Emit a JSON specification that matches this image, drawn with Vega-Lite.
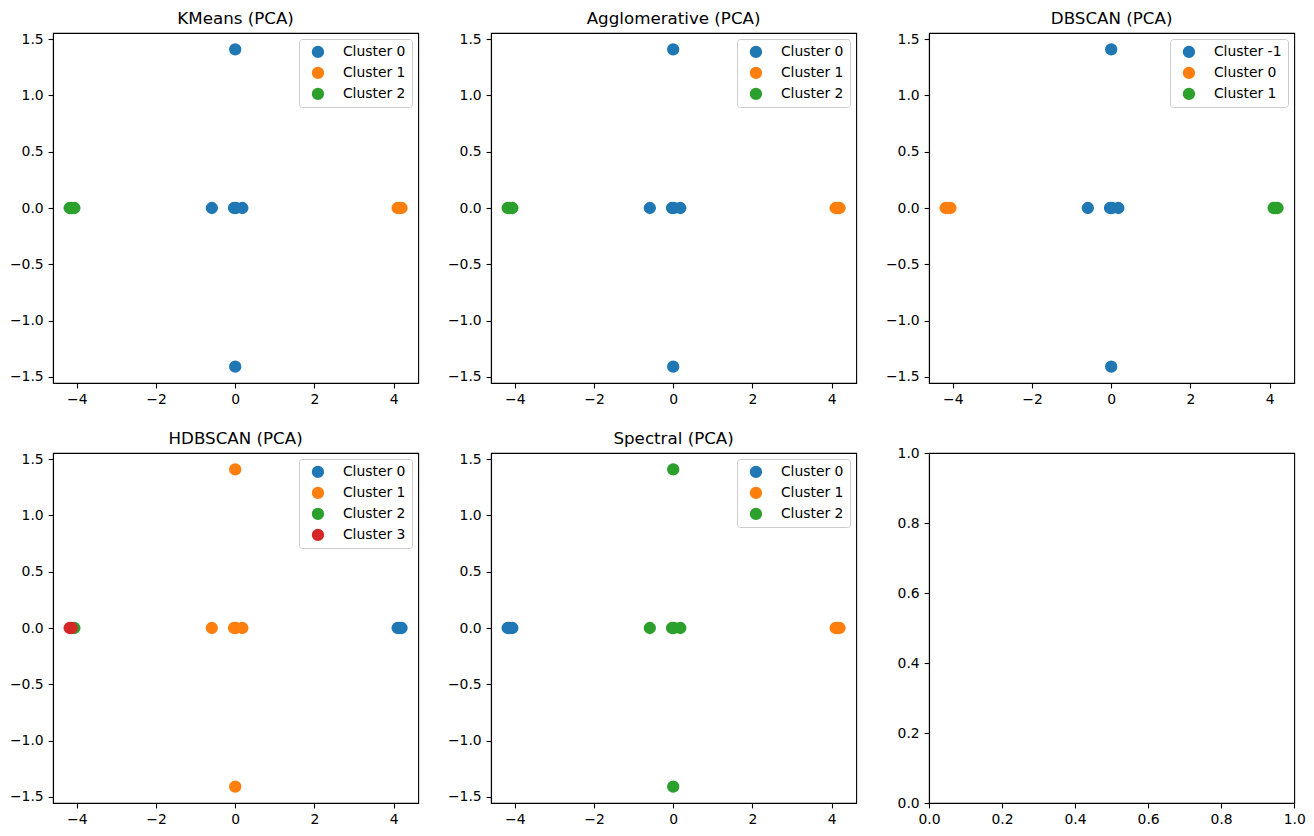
{
  "$schema": "https://vega.github.io/schema/vega-lite/v6.json",
  "padding": {"left": 8, "top": 10, "right": 5, "bottom": 5},
  "background": "white",
  "datasets": {
    "points": [
      {"method": "KMeans", "x": -0.59, "y": 0, "cluster": "Cluster 0"},
      {"method": "KMeans", "x": -0.03, "y": 0, "cluster": "Cluster 0"},
      {"method": "KMeans", "x": 0.02, "y": 0, "cluster": "Cluster 0"},
      {"method": "KMeans", "x": 0.18, "y": 0, "cluster": "Cluster 0"},
      {"method": "KMeans", "x": 0.0, "y": 1.41, "cluster": "Cluster 0"},
      {"method": "KMeans", "x": 0.0, "y": -1.41, "cluster": "Cluster 0"},
      {"method": "KMeans", "x": 4.1, "y": 0, "cluster": "Cluster 1"},
      {"method": "KMeans", "x": 4.15, "y": 0, "cluster": "Cluster 1"},
      {"method": "KMeans", "x": 4.2, "y": 0, "cluster": "Cluster 1"},
      {"method": "KMeans", "x": -4.18, "y": 0, "cluster": "Cluster 2"},
      {"method": "KMeans", "x": -4.13, "y": 0, "cluster": "Cluster 2"},
      {"method": "KMeans", "x": -4.06, "y": 0, "cluster": "Cluster 2"},

      {"method": "Agglomerative", "x": -0.59, "y": 0, "cluster": "Cluster 0"},
      {"method": "Agglomerative", "x": -0.03, "y": 0, "cluster": "Cluster 0"},
      {"method": "Agglomerative", "x": 0.02, "y": 0, "cluster": "Cluster 0"},
      {"method": "Agglomerative", "x": 0.18, "y": 0, "cluster": "Cluster 0"},
      {"method": "Agglomerative", "x": 0.0, "y": 1.41, "cluster": "Cluster 0"},
      {"method": "Agglomerative", "x": 0.0, "y": -1.41, "cluster": "Cluster 0"},
      {"method": "Agglomerative", "x": 4.1, "y": 0, "cluster": "Cluster 1"},
      {"method": "Agglomerative", "x": 4.15, "y": 0, "cluster": "Cluster 1"},
      {"method": "Agglomerative", "x": 4.2, "y": 0, "cluster": "Cluster 1"},
      {"method": "Agglomerative", "x": -4.18, "y": 0, "cluster": "Cluster 2"},
      {"method": "Agglomerative", "x": -4.13, "y": 0, "cluster": "Cluster 2"},
      {"method": "Agglomerative", "x": -4.06, "y": 0, "cluster": "Cluster 2"},

      {"method": "DBSCAN", "x": -0.59, "y": 0, "cluster": "Cluster -1"},
      {"method": "DBSCAN", "x": -0.03, "y": 0, "cluster": "Cluster -1"},
      {"method": "DBSCAN", "x": 0.02, "y": 0, "cluster": "Cluster -1"},
      {"method": "DBSCAN", "x": 0.18, "y": 0, "cluster": "Cluster -1"},
      {"method": "DBSCAN", "x": 0.0, "y": 1.41, "cluster": "Cluster -1"},
      {"method": "DBSCAN", "x": 0.0, "y": -1.41, "cluster": "Cluster -1"},
      {"method": "DBSCAN", "x": -4.18, "y": 0, "cluster": "Cluster 0"},
      {"method": "DBSCAN", "x": -4.13, "y": 0, "cluster": "Cluster 0"},
      {"method": "DBSCAN", "x": -4.06, "y": 0, "cluster": "Cluster 0"},
      {"method": "DBSCAN", "x": 4.1, "y": 0, "cluster": "Cluster 1"},
      {"method": "DBSCAN", "x": 4.15, "y": 0, "cluster": "Cluster 1"},
      {"method": "DBSCAN", "x": 4.2, "y": 0, "cluster": "Cluster 1"},

      {"method": "HDBSCAN", "x": 4.1, "y": 0, "cluster": "Cluster 0"},
      {"method": "HDBSCAN", "x": 4.15, "y": 0, "cluster": "Cluster 0"},
      {"method": "HDBSCAN", "x": 4.2, "y": 0, "cluster": "Cluster 0"},
      {"method": "HDBSCAN", "x": -0.59, "y": 0, "cluster": "Cluster 1"},
      {"method": "HDBSCAN", "x": -0.03, "y": 0, "cluster": "Cluster 1"},
      {"method": "HDBSCAN", "x": 0.02, "y": 0, "cluster": "Cluster 1"},
      {"method": "HDBSCAN", "x": 0.18, "y": 0, "cluster": "Cluster 1"},
      {"method": "HDBSCAN", "x": 0.0, "y": 1.41, "cluster": "Cluster 1"},
      {"method": "HDBSCAN", "x": 0.0, "y": -1.41, "cluster": "Cluster 1"},
      {"method": "HDBSCAN", "x": -4.06, "y": 0, "cluster": "Cluster 2"},
      {"method": "HDBSCAN", "x": -4.18, "y": 0, "cluster": "Cluster 3"},
      {"method": "HDBSCAN", "x": -4.13, "y": 0, "cluster": "Cluster 3"},

      {"method": "Spectral", "x": -4.18, "y": 0, "cluster": "Cluster 0"},
      {"method": "Spectral", "x": -4.13, "y": 0, "cluster": "Cluster 0"},
      {"method": "Spectral", "x": -4.06, "y": 0, "cluster": "Cluster 0"},
      {"method": "Spectral", "x": 4.1, "y": 0, "cluster": "Cluster 1"},
      {"method": "Spectral", "x": 4.15, "y": 0, "cluster": "Cluster 1"},
      {"method": "Spectral", "x": 4.2, "y": 0, "cluster": "Cluster 1"},
      {"method": "Spectral", "x": -0.59, "y": 0, "cluster": "Cluster 2"},
      {"method": "Spectral", "x": -0.03, "y": 0, "cluster": "Cluster 2"},
      {"method": "Spectral", "x": 0.02, "y": 0, "cluster": "Cluster 2"},
      {"method": "Spectral", "x": 0.18, "y": 0, "cluster": "Cluster 2"},
      {"method": "Spectral", "x": 0.0, "y": 1.41, "cluster": "Cluster 2"},
      {"method": "Spectral", "x": 0.0, "y": -1.41, "cluster": "Cluster 2"}
    ]
  },
  "data": {"name": "points"},
  "columns": 3,
  "spacing": {"row": 70, "column": 72},
  "bounds": "flush",
  "resolve": {"scale": {"color": "independent"}, "legend": {"color": "independent"}},
  "concat": [
    {
      "title": "KMeans (PCA)",
      "width": 365.2, "height": 350,
      "transform": [{"filter": "datum.method === 'KMeans'"}],
      "mark": {"type": "point", "filled": true, "opacity": 1, "size": 152, "shape": "circle"},
      "encoding": {
        "x": {"field": "x", "type": "quantitative", "title": null, "scale": {"domain": [-4.6, 4.62], "nice": false, "zero": false}, "axis": {"values": [-4, -2, 0, 2, 4], "format": "d"}},
        "y": {"field": "y", "type": "quantitative", "title": null, "scale": {"domain": [-1.555, 1.555], "nice": false, "zero": false}, "axis": {"values": [-1.5, -1, -0.5, 0, 0.5, 1, 1.5], "format": ".1f"}},
        "color": {"field": "cluster", "type": "nominal", "scale": {"domain": ["Cluster 0", "Cluster 1", "Cluster 2"], "range": ["#1f77b4", "#ff7f0e", "#2ca02c"]}, "legend": {"title": null}}
      }
    },
    {
      "title": "Agglomerative (PCA)",
      "width": 365.2, "height": 350,
      "transform": [{"filter": "datum.method === 'Agglomerative'"}],
      "mark": {"type": "point", "filled": true, "opacity": 1, "size": 152, "shape": "circle"},
      "encoding": {
        "x": {"field": "x", "type": "quantitative", "title": null, "scale": {"domain": [-4.6, 4.62], "nice": false, "zero": false}, "axis": {"values": [-4, -2, 0, 2, 4], "format": "d"}},
        "y": {"field": "y", "type": "quantitative", "title": null, "scale": {"domain": [-1.555, 1.555], "nice": false, "zero": false}, "axis": {"values": [-1.5, -1, -0.5, 0, 0.5, 1, 1.5], "format": ".1f"}},
        "color": {"field": "cluster", "type": "nominal", "scale": {"domain": ["Cluster 0", "Cluster 1", "Cluster 2"], "range": ["#1f77b4", "#ff7f0e", "#2ca02c"]}, "legend": {"title": null}}
      }
    },
    {
      "title": "DBSCAN (PCA)",
      "width": 365.2, "height": 350,
      "transform": [{"filter": "datum.method === 'DBSCAN'"}],
      "mark": {"type": "point", "filled": true, "opacity": 1, "size": 152, "shape": "circle"},
      "encoding": {
        "x": {"field": "x", "type": "quantitative", "title": null, "scale": {"domain": [-4.6, 4.62], "nice": false, "zero": false}, "axis": {"values": [-4, -2, 0, 2, 4], "format": "d"}},
        "y": {"field": "y", "type": "quantitative", "title": null, "scale": {"domain": [-1.555, 1.555], "nice": false, "zero": false}, "axis": {"values": [-1.5, -1, -0.5, 0, 0.5, 1, 1.5], "format": ".1f"}},
        "color": {"field": "cluster", "type": "nominal", "scale": {"domain": ["Cluster -1", "Cluster 0", "Cluster 1"], "range": ["#1f77b4", "#ff7f0e", "#2ca02c"]}, "legend": {"title": null}}
      }
    },
    {
      "title": "HDBSCAN (PCA)",
      "width": 365.2, "height": 350,
      "transform": [{"filter": "datum.method === 'HDBSCAN'"}],
      "mark": {"type": "point", "filled": true, "opacity": 1, "size": 152, "shape": "circle"},
      "encoding": {
        "x": {"field": "x", "type": "quantitative", "title": null, "scale": {"domain": [-4.6, 4.62], "nice": false, "zero": false}, "axis": {"values": [-4, -2, 0, 2, 4], "format": "d"}},
        "y": {"field": "y", "type": "quantitative", "title": null, "scale": {"domain": [-1.555, 1.555], "nice": false, "zero": false}, "axis": {"values": [-1.5, -1, -0.5, 0, 0.5, 1, 1.5], "format": ".1f"}},
        "color": {"field": "cluster", "type": "nominal", "scale": {"domain": ["Cluster 0", "Cluster 1", "Cluster 2", "Cluster 3"], "range": ["#1f77b4", "#ff7f0e", "#2ca02c", "#d62728"]}, "legend": {"title": null}}
      }
    },
    {
      "title": "Spectral (PCA)",
      "width": 365.2, "height": 350,
      "transform": [{"filter": "datum.method === 'Spectral'"}],
      "mark": {"type": "point", "filled": true, "opacity": 1, "size": 152, "shape": "circle"},
      "encoding": {
        "x": {"field": "x", "type": "quantitative", "title": null, "scale": {"domain": [-4.6, 4.62], "nice": false, "zero": false}, "axis": {"values": [-4, -2, 0, 2, 4], "format": "d"}},
        "y": {"field": "y", "type": "quantitative", "title": null, "scale": {"domain": [-1.555, 1.555], "nice": false, "zero": false}, "axis": {"values": [-1.5, -1, -0.5, 0, 0.5, 1, 1.5], "format": ".1f"}},
        "color": {"field": "cluster", "type": "nominal", "scale": {"domain": ["Cluster 0", "Cluster 1", "Cluster 2"], "range": ["#1f77b4", "#ff7f0e", "#2ca02c"]}, "legend": {"title": null}}
      }
    },
    {
      "width": 365.2, "height": 350,
      "data": {"values": []},
      "mark": {"type": "point", "filled": true, "opacity": 1, "size": 152},
      "encoding": {
        "x": {"field": "x", "type": "quantitative", "title": null, "scale": {"domain": [0, 1], "nice": false, "zero": false}, "axis": {"values": [0, 0.2, 0.4, 0.6, 0.8, 1.0], "format": ".1f"}},
        "y": {"field": "y", "type": "quantitative", "title": null, "scale": {"domain": [0, 1], "nice": false, "zero": false}, "axis": {"values": [0, 0.2, 0.4, 0.6, 0.8, 1.0], "format": ".1f"}}
      }
    }
  ],
  "config": {
    "font": "DejaVu Sans",
    "view": {"stroke": "black", "strokeWidth": 1.1},
    "axis": {
      "grid": false,
      "domainColor": "black",
      "domainWidth": 1.1,
      "tickColor": "black",
      "tickWidth": 1.1,
      "tickSize": 4.9,
      "labelPadding": 4.9,
      "labelColor": "black",
      "labelFont": "DejaVu Sans",
      "labelFontSize": 13.9,
      "labelOverlap": false,
      "labelFlush": false
    },
    "title": {
      "font": "DejaVu Sans",
      "fontSize": 16.7,
      "fontWeight": "normal",
      "color": "black",
      "anchor": "middle",
      "baseline": "alphabetic",
      "offset": 4.3
    },
    "legend": {
      "orient": "top-right",
      "offset": 6,
      "padding": 6,
      "fillColor": "rgba(255,255,255,0.8)",
      "strokeColor": "#cccccc",
      "cornerRadius": 3,
      "labelFont": "DejaVu Sans",
      "labelFontSize": 13.9,
      "labelColor": "black",
      "labelOffset": 18,
      "symbolOffset": 6,
      "symbolSize": 152,
      "symbolType": "circle",
      "symbolStrokeWidth": 0,
      "symbolOpacity": 1,
      "rowPadding": 6
    }
  }
}
